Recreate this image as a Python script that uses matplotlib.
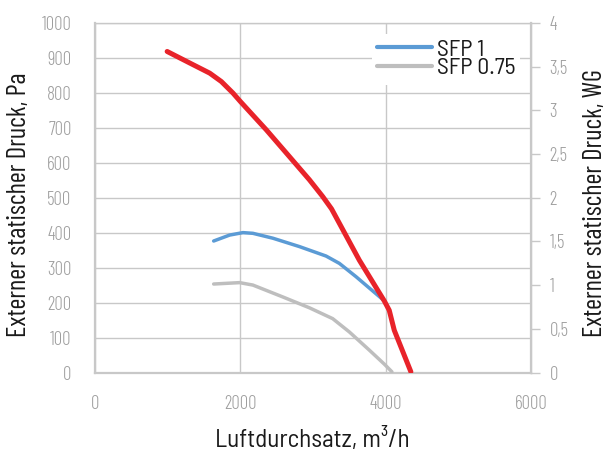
import matplotlib
matplotlib.use("Agg")
import matplotlib.pyplot as plt
from matplotlib import font_manager as fm
from matplotlib.font_manager import FontProperties

# Data (x: m3/h, y: Pa)
red_x = [993, 1304, 1579, 1739, 1899, 2000, 2357, 2677, 2951, 3134, 3255, 3638, 3980, 4049, 4118, 4347]
red_y = [918, 885, 856, 832, 799, 775, 694, 617, 551, 503, 468, 321, 205, 178, 121, 2]

sfp1_x = [1633, 1853, 2036, 2173, 2448, 2814, 3180, 3363, 3592, 3981]
sfp1_y = [376, 393, 400, 398, 384, 360, 333, 312, 274, 205]

sfp075_x = [1633, 1990, 2173, 2585, 2951, 3271, 3500, 3775, 3981, 4086]
sfp075_y = [253, 257, 250, 216, 185, 154, 116, 64, 24, 2]

x_ticks = [0, 2000, 4000, 6000]
y_ticks = [0, 100, 200, 300, 400, 500, 600, 700, 800, 900, 1000]
wg_ticks = [0, 0.5, 1, 1.5, 2, 2.5, 3, 3.5, 4]
wg_labels = ["0", "0,5", "1", "1,5", "2", "2,5", "3", "3,5", "4"]

series_labels = ["SFP 1", "SFP 0.75"]
x_label = "Luftdurchsatz, m³/h"
y_label = "Externer statischer Druck, Pa"
y2_label = "Externer statischer Druck, WG"

GRID = "#C8C8C8"
TICKC = "#9E9E9E"
RED = "#E8232A"
BLUE = "#5B9BD5"
GRAY = "#BEBEBE"
TXT = "#1A1A1A"


def font(name, weight, size):
    """Deterministically pick an installed font file by family name and weight."""
    def w(f):
        v = f.weight
        if isinstance(v, str):
            v = fm.weight_dict.get(v, 400)
        return int(v)
    cands = [f for f in fm.fontManager.ttflist if f.name == name and f.style == "normal"]
    if cands:
        cands.sort(key=lambda f: (abs(w(f) - weight), f.fname))
        return FontProperties(fname=cands[0].fname, size=size)
    return FontProperties(family=["DejaVu Sans"], size=size)


W, H = 607, 451
fig = plt.figure(figsize=(W / 100, H / 100), dpi=100)
ax = fig.add_axes([95 / W, 1 - 372.5 / H, (531 - 95) / W, (372.5 - 22.8) / H])

ax.set_xlim(0, 6000)
ax.set_ylim(0, 1000)
ax.set_xticks(x_ticks)
ax.set_yticks(y_ticks)
ax.grid(True, color=GRID, linewidth=1.0)
ax.set_axisbelow(True)
for s in ax.spines.values():
    s.set_color(GRID)
    s.set_linewidth(1.0)
ax.spines["left"].set_linewidth(1.6)
ax.spines["bottom"].set_linewidth(1.6)
ax.tick_params(axis="both", length=0, colors=TICKC)
ax.tick_params(axis="y", pad=17)
ax.tick_params(axis="x", pad=16)
for lab in ax.get_xticklabels() + ax.get_yticklabels():
    lab.set_fontproperties(font("Barlow Condensed", 300, 13.5))

l1, = ax.plot(sfp1_x, sfp1_y, color=BLUE, linewidth=2.5, solid_capstyle="round", zorder=3)
l2, = ax.plot(sfp075_x, sfp075_y, color=GRAY, linewidth=2.5, solid_capstyle="round", zorder=3)
ax.plot(red_x, red_y, color=RED, linewidth=3.6, solid_capstyle="round", solid_joinstyle="round", zorder=4)

leg = ax.legend([l1, l2], series_labels, loc="upper left",
                bbox_to_anchor=(372 / W, 1 - 34 / H), bbox_transform=fig.transFigure,
                frameon=True, fancybox=False, framealpha=1.0, edgecolor="white",
                prop=font("Barlow Semi Condensed", 400, 17), handlelength=2.3, handletextpad=0.22,
                labelspacing=-0.12, borderpad=0.22, borderaxespad=0.0)
leg.get_frame().set_linewidth(0)
for t in leg.get_texts():
    t.set_color(TXT)
for h in leg.get_lines():
    h.set_linewidth(3.0)

ax2 = ax.twinx()
ax2.set_ylim(0, 4)
ax2.set_yticks(wg_ticks)
ax2.set_yticklabels(wg_labels)
for s in ax2.spines.values():
    s.set_visible(False)
ax2.spines["right"].set_visible(True)
ax2.spines["right"].set_color(GRID)
ax2.spines["right"].set_linewidth(1.6)
ax2.tick_params(axis="y", direction="out", length=6.5, width=1.0, color=GRID, labelcolor=TICKC, pad=7)
for lab in ax2.get_yticklabels():
    lab.set_fontproperties(font("Barlow Condensed", 300, 13.5))

# Axis titles placed at their measured centres, size fitted to measured extents
tx = fig.text(312.5 / W, 1 - 440 / H, x_label, fontproperties=font("Barlow Semi Condensed", 400, 17),
              color=TXT, ha="center", va="center")
ty = fig.text(19 / W, 1 - 204.5 / H, y_label, fontproperties=font("Barlow Condensed", 400, 16),
              color=TXT, ha="center", va="center", rotation=90)
ty2 = fig.text(594.5 / W, 1 - 203 / H, y2_label, fontproperties=font("Barlow Condensed", 400, 16),
               color=TXT, ha="center", va="center", rotation=90)

fig.canvas.draw()
r = fig.canvas.get_renderer()
for t, target, dim in [(tx, 195, "w"), (ty, 265, "h"), (ty2, 268, "h")]:
    bb = t.get_window_extent(r)
    cur = bb.width if dim == "w" else bb.height
    t.set_fontsize(t.get_fontsize() * target / cur)

fig.savefig("out.png", dpi=100)
